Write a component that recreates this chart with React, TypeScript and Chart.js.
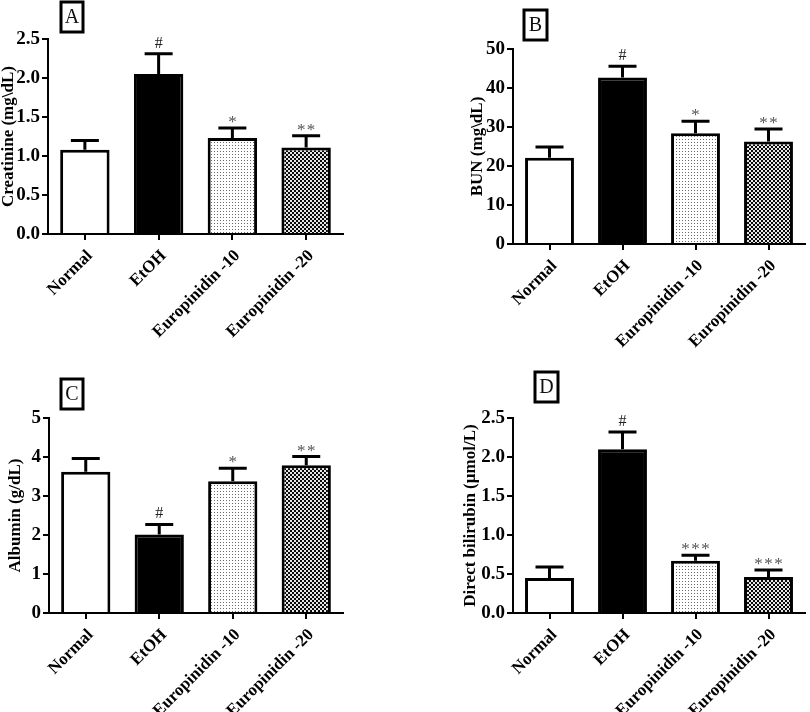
import React, { useEffect, useRef } from "react";
import { Chart, registerables } from "chart.js";

Chart.register(...registerables);

const categories = ["Normal", "EtOH", "Europinidin -10", "Europinidin -20"];

const creatinineMean = [1.08, 2.05, 1.23, 1.11];
const creatinineErr = [0.12, 0.26, 0.13, 0.15];
const creatinineMarks = ["", "#", "*", "**"];

const bunMean = [22.1, 42.7, 28.4, 26.3];
const bunErr = [2.8, 2.9, 3.1, 3.2];
const bunMarks = ["", "#", "*", "**"];

const albuminMean = [3.62, 2.01, 3.38, 3.79];
const albuminErr = [0.34, 0.26, 0.33, 0.22];
const albuminMarks = ["", "#", "*", "**"];

const bilirubinMean = [0.45, 2.1, 0.67, 0.46];
const bilirubinErr = [0.14, 0.22, 0.07, 0.09];
const bilirubinMarks = ["", "#", "***", "***"];

const SERIF = "'Liberation Serif', 'Times New Roman', serif";

function makeDotPattern(): CanvasPattern | string {
  const c = document.createElement("canvas");
  c.width = 3;
  c.height = 3;
  const g = c.getContext("2d");
  if (!g) return "#eee";
  g.fillStyle = "#ffffff";
  g.fillRect(0, 0, 3, 3);
  g.fillStyle = "#6a6a6a";
  g.fillRect(1, 1, 1, 1);
  return g.createPattern(c, "repeat") || "#eee";
}

function makeCheckerPattern(): CanvasPattern | string {
  const c = document.createElement("canvas");
  c.width = 4;
  c.height = 4;
  const g = c.getContext("2d");
  if (!g) return "#666";
  g.fillStyle = "#e6e6e6";
  g.fillRect(0, 0, 4, 4);
  g.fillStyle = "#0a0a0a";
  g.fillRect(0, 0, 2, 2);
  g.fillRect(2, 2, 2, 2);
  return g.createPattern(c, "repeat") || "#666";
}

type PanelCfg = {
  letter: string;
  title: string;
  means: number[];
  errs: number[];
  marks: string[];
  yMax: number;
  yStep: number;
  decimals: number;
  left: number;
  top: number;
  width: number;
  height: number;
  padLeft: number;
  axisX: number;
  areaTop: number;
  areaRight: number;
  areaBottom: number;
  xAxisHeight: number;
  box: [number, number, number, number];
};

const panels: PanelCfg[] = [
  {
    letter: "A", title: "Creatinine (mg\\dL)", means: creatinineMean, errs: creatinineErr, marks: creatinineMarks,
    yMax: 2.5, yStep: 0.5, decimals: 1,
    left: 0, top: 0, width: 405, height: 372,
    padLeft: 0, axisX: 48, areaTop: 39, areaRight: 343, areaBottom: 234, xAxisHeight: 106,
    box: [61, 2, 22, 30],
  },
  {
    letter: "B", title: "BUN (mg\\dL)", means: bunMean, errs: bunErr, marks: bunMarks,
    yMax: 50, yStep: 10, decimals: 0,
    left: 405, top: 0, width: 405, height: 372,
    padLeft: 64, axisX: 108, areaTop: 49, areaRight: 400, areaBottom: 244, xAxisHeight: 106,
    box: [119, 10, 23, 30],
  },
  {
    letter: "C", title: "Albumin (g/dL)", means: albuminMean, errs: albuminErr, marks: albuminMarks,
    yMax: 5, yStep: 1, decimals: 0,
    left: 0, top: 340, width: 405, height: 372,
    padLeft: 7, axisX: 49, areaTop: 78, areaRight: 343, areaBottom: 273, xAxisHeight: 99,
    box: [61, 39, 22, 30],
  },
  {
    letter: "D", title: "Direct bilirubin (\u00b5mol/L)", means: bilirubinMean, errs: bilirubinErr, marks: bilirubinMarks,
    yMax: 2.5, yStep: 0.5, decimals: 1,
    left: 405, top: 340, width: 405, height: 372,
    padLeft: 57, axisX: 108, areaTop: 78, areaRight: 400, areaBottom: 273, xAxisHeight: 99,
    box: [130, 32, 23, 30],
  },
];

const extrasPlugin = {
  id: "panelExtras",
  afterDatasetsDraw(chart: any, _args: any, opts: any) {
    const { ctx } = chart;
    const meta = chart.getDatasetMeta(0);
    const yScale = chart.scales.y;
    ctx.save();
    ctx.strokeStyle = "#000";
    ctx.lineWidth = 3;
    ctx.lineCap = "butt";
    meta.data.forEach((bar: any, i: number) => {
      const v = opts.means[i];
      const e = opts.errs[i];
      const x = bar.x;
      const yTop = yScale.getPixelForValue(v + e);
      const yBase = yScale.getPixelForValue(v);
      ctx.beginPath();
      ctx.moveTo(x, yBase);
      ctx.lineTo(x, yTop);
      ctx.moveTo(x - 14, yTop);
      ctx.lineTo(x + 14, yTop);
      ctx.stroke();
      const m = opts.marks[i];
      if (m) {
        ctx.textAlign = "center";
        ctx.textBaseline = "alphabetic";
        if (m === "#") {
          ctx.fillStyle = "#222";
          ctx.font = `16px ${SERIF}`;
          ctx.fillText(m, x, yTop - 6);
        } else {
          ctx.fillStyle = "#555";
          ctx.font = `17px ${SERIF}`;
          const spaced = m.split("").join("\u200a");
          ctx.fillText(spaced, x, yTop - 1);
        }
      }
    });
    ctx.restore();
  },
  afterDraw(chart: any, _args: any, opts: any) {
    const { ctx } = chart;
    const [bx, by, bw, bh] = opts.box;
    ctx.save();
    ctx.fillStyle = "#fff";
    ctx.fillRect(bx, by, bw, bh);
    ctx.strokeStyle = "#000";
    ctx.lineWidth = 3;
    ctx.strokeRect(bx, by, bw, bh);
    ctx.fillStyle = "#111";
    ctx.font = `20px ${SERIF}`;
    ctx.textAlign = "center";
    ctx.textBaseline = "middle";
    ctx.fillText(opts.letter, bx + bw / 2, by + bh / 2 + 1);
    ctx.restore();
  },
};

function Panel({ cfg }: { cfg: PanelCfg }) {
  const ref = useRef<HTMLCanvasElement | null>(null);
  useEffect(() => {
    if (!ref.current) return;
    const fills = ["#ffffff", "#000000", makeDotPattern(), makeCheckerPattern()];
    const chart = new Chart(ref.current, {
      type: "bar",
      data: {
        labels: categories,
        datasets: [
          {
            data: cfg.means,
            backgroundColor: fills as any,
            borderColor: "#000",
            borderWidth: 3,
            borderSkipped: "start",
            barPercentage: 0.67,
            categoryPercentage: 1,
          },
        ],
      },
      options: {
        responsive: false,
        animation: false,
        layout: {
          padding: {
            left: cfg.padLeft,
            top: cfg.areaTop,
            right: cfg.width - cfg.areaRight,
            bottom: cfg.height - cfg.areaBottom - cfg.xAxisHeight,
          },
        },
        plugins: {
          legend: { display: false },
          tooltip: { enabled: false },
          panelExtras: {
            means: cfg.means,
            errs: cfg.errs,
            marks: cfg.marks,
            box: cfg.box,
            letter: cfg.letter,
          },
        } as any,
        scales: {
          x: {
            offset: true,
            grid: {
              offset: false,
              drawOnChartArea: false,
              drawTicks: true,
              tickLength: 6,
              color: "#000",
              lineWidth: 2,
            },
            border: { display: true, color: "#000", width: 2 },
            ticks: {
              autoSkip: false,
              maxRotation: 45,
              minRotation: 45,
              padding: 6,
              labelOffset: 5,
              color: "#000",
              font: { family: SERIF, size: 17, weight: "bold" },
            },
            afterFit: (scale: any) => {
              scale.height = cfg.xAxisHeight;
            },
          },
          y: {
            min: 0,
            max: cfg.yMax,
            grid: {
              drawOnChartArea: false,
              drawTicks: true,
              tickLength: 6,
              color: "#000",
              lineWidth: 2,
            },
            border: { display: true, color: "#000", width: 2 },
            ticks: {
              stepSize: cfg.yStep,
              padding: 2,
              color: "#000",
              font: { family: SERIF, size: 19, weight: "bold" },
              callback: (v: any) => Number(v).toFixed(cfg.decimals),
            },
            title: {
              display: true,
              text: cfg.title,
              color: "#000",
              padding: 0,
              font: { family: SERIF, size: 17, weight: "bold", lineHeight: 1 },
            },
            afterFit: (scale: any) => {
              scale.width = cfg.axisX - cfg.padLeft;
            },
          },
        },
      },
      plugins: [extrasPlugin as any],
    });
    return () => chart.destroy();
  }, [cfg]);
  return (
    <canvas
      ref={ref}
      width={cfg.width}
      height={cfg.height}
      style={{ position: "absolute", left: cfg.left, top: cfg.top, width: cfg.width, height: cfg.height }}
    />
  );
}

export default function App() {
  return (
    <div style={{ position: "fixed", left: 0, top: 0, width: 810, height: 712, background: "#fff" }}>
      {panels.map((p) => (
        <Panel key={p.letter} cfg={p} />
      ))}
    </div>
  );
}
